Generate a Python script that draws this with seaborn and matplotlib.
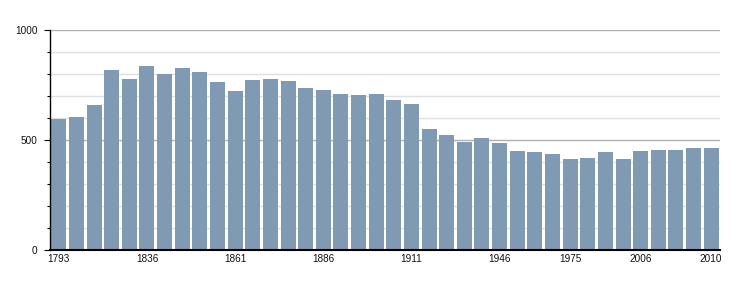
import matplotlib
matplotlib.use("Agg")
import matplotlib.pyplot as plt
import seaborn as sns
import pandas as pd
from matplotlib.ticker import MultipleLocator

years = [1793, 1800, 1806, 1821, 1831, 1836, 1841, 1846, 1851, 1856,
         1861, 1866, 1872, 1876, 1881, 1886, 1891, 1896, 1901, 1906,
         1911, 1921, 1926, 1931, 1936, 1946, 1954, 1962, 1968, 1975,
         1982, 1990, 1999, 2006, 2007, 2008, 2009, 2010]
population = [596, 605, 660, 819, 778, 838, 801, 829, 810, 765,
              724, 774, 778, 769, 737, 728, 710, 706, 710, 683,
              665, 551, 524, 492, 510, 487, 451, 446, 437, 414,
              419, 446, 414, 451, 455, 455, 464, 464]
shown_labels = ["1793", "1836", "1861", "1886", "1911", "1946", "1975", "2006", "2010"]
y_ticks = [0, 500, 1000]

df = pd.DataFrame({"year": [str(y) for y in years], "pop": population})

sns.set_style("white")
plt.rcParams['font.family'] = ['Liberation Sans', 'DejaVu Sans']

fig = plt.figure(figsize=(7.5, 3.0), dpi=100)
ax = fig.add_axes([50/750, 50/300, 670/750, 220/300])

sns.barplot(data=df, x="year", y="pop", color="#7f9ab2", saturation=1,
            width=0.85, ax=ax, edgecolor="none")
ax.set_xlim(-0.5, len(years) - 0.5)
ax.set_ylim(0, 1000)
ax.set_yticks(y_ticks)
ax.set_yticklabels([str(t) for t in y_ticks])
ax.yaxis.set_minor_locator(MultipleLocator(100))
ax.grid(True, which="minor", axis="y", color="#e0e0e0", lw=1)
ax.grid(True, which="major", axis="y", color="#b0b0b0", lw=1)
ax.set_axisbelow(True)

labels = [y if y in shown_labels else "" for y in df["year"]]
ax.set_xticks(range(len(years)))
ax.set_xticklabels(labels, fontsize=7.2, color="#111111")
ax.tick_params(axis="x", length=0, pad=3)
ax.tick_params(axis="y", which="major", direction="out", length=4.5, width=0.8,
               color="black", labelsize=7.2, labelcolor="#111111", pad=4.5, left=True)
ax.tick_params(axis="y", which="minor", direction="out", length=2, width=0.8,
               color="black", left=True)

for s in ["top", "right"]:
    ax.spines[s].set_visible(False)
ax.spines["left"].set_color("black")
ax.spines["left"].set_linewidth(1)
ax.spines["bottom"].set_color("black")
ax.spines["bottom"].set_linewidth(1.5)
ax.set_xlabel("")
ax.set_ylabel("")

fig.savefig("out.png", dpi=100)
